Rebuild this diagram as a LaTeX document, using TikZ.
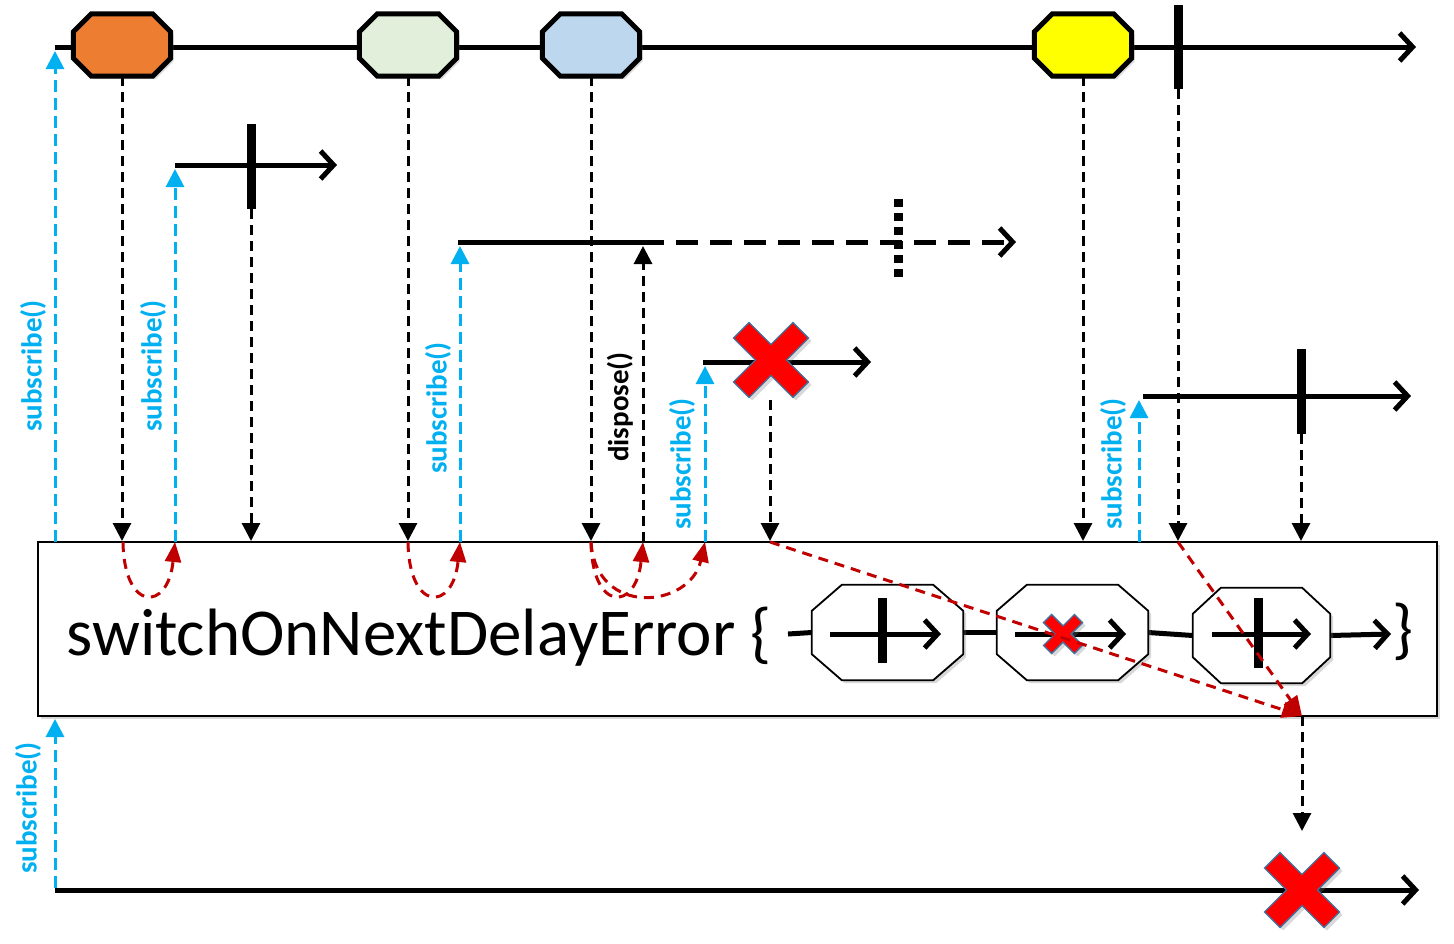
\documentclass[tikz,border=0pt]{standalone}
\usepackage{fontspec}
\setmainfont{Carlito}
\usetikzlibrary{arrows.meta,shadows}
\definecolor{sub}{HTML}{00B0F0}
\definecolor{dred}{HTML}{C00000}
\definecolor{xred}{HTML}{FF0000}
\definecolor{xedge}{HTML}{41719C}
\definecolor{morange}{HTML}{ED7D31}
\definecolor{mgreen}{HTML}{E2EFDA}
\definecolor{mblue}{HTML}{BDD7EE}
\definecolor{myellow}{HTML}{FFFF00}
\tikzset{
  shade/.style={drop shadow={opacity=0.3,shadow xshift=3pt,shadow yshift=-3pt}},
  mainline/.style={line width=5pt,-{Straight Barb[length=13pt,width=28pt]}},
  plainline/.style={line width=5pt},
  termbar/.style={line width=9pt},
  blkdash/.style={line width=3pt,dash pattern=on 10pt off 6pt,-{Triangle[width=18pt,length=18pt]}},
  subdash/.style={sub,line width=3pt,dash pattern=on 12pt off 6pt,-{Triangle[width=18pt,length=18pt]}},
  reddash/.style={dred,line width=3pt,dash pattern=on 10pt off 7pt,-{Triangle[width=16pt,length=20pt]}},
  sublabel/.style={sub,font=\fontsize{29}{34}\selectfont\bfseries,rotate=90},
  blklabel/.style={black,font=\fontsize{29}{34}\selectfont\bfseries,rotate=90},
  slot/.style={rectangle,inner sep=0pt,draw=none},
  redx/.pic={\filldraw[fill=xred,draw=xedge,line width=1.3pt,rotate=45,shade]
     (-11,-42) -- (11,-42) -- (11,-11) -- (42,-11) -- (42,11) -- (11,11) -- (11,42)
     -- (-11,42) -- (-11,11) -- (-42,11) -- (-42,-11) -- (-11,-11) -- cycle;}
}
\newcommand\octo[5]{% name, fill, xchamfer, ychamfer, line width
  \filldraw[line width=#5,fill=#2,shade,line join=miter]
   ([xshift=#3]#1.north west) -- ([xshift=-#3]#1.north east) -- ([yshift=-#4]#1.north east)
   -- ([yshift=#4]#1.south east) -- ([xshift=-#3]#1.south east) -- ([xshift=#3]#1.south west)
   -- ([yshift=#4]#1.south west) -- ([yshift=-#4]#1.north west) -- cycle;}
\begin{document}
\begin{tikzpicture}[x=1pt,y=-1pt]
\useasboundingbox (0,0) rectangle (1454,943);
% ---------- top source ----------
\coordinate (top0) at (55,47);
\coordinate (top1) at (1416,47);
\draw[mainline] (top0) -- (top1);
\node[slot,minimum width=97pt,minimum height=62pt] (m1) at (122,45) {};
\node[slot,minimum width=97pt,minimum height=62pt] (m2) at (408,45) {};
\node[slot,minimum width=97pt,minimum height=62pt] (m3) at (591,45) {};
\node[slot,minimum width=97pt,minimum height=62pt] (m4) at (1083,45) {};
\octo{m1}{morange}{18pt}{18pt}{5pt}
\octo{m2}{mgreen}{18pt}{18pt}{5pt}
\octo{m3}{mblue}{18pt}{18pt}{5pt}
\octo{m4}{myellow}{18pt}{18pt}{5pt}
\coordinate (tt0) at (1178,5);
\coordinate (tt1) at (1178,89);
\draw[termbar] (tt0) -- (tt1);
% ---------- inner source 1 ----------
\coordinate (s1) at (175,165);
\coordinate (s1e) at (337,165);
\draw[mainline] (s1) -- (s1e);
\coordinate (b1a) at (251,124);
\coordinate (b1b) at (251,209);
\draw[termbar] (b1a) -- (b1b);
% ---------- inner source 2 ----------
\coordinate (s2) at (458,242);
\coordinate (s2d) at (642,242);
\coordinate (s2e) at (1016,242);
\draw[plainline] (s2) -- (s2d);
\draw[line width=5pt,dash pattern=on 22pt off 12pt,-{Straight Barb[length=13pt,width=28pt]}] (s2d) -- (s2e);
\coordinate (b2a) at (898,199);
\coordinate (b2b) at (898,282);
\draw[line width=9pt,dash pattern=on 8pt off 6pt] (b2a) -- (b2b);
% ---------- inner source 3 ----------
\coordinate (s3) at (703,362);
\coordinate (s3e) at (871,362);
\draw[mainline] (s3) -- (s3e);
\pic (x3) at (771,360) {redx};
% ---------- inner source 4 ----------
\coordinate (s4) at (1143,396);
\coordinate (s4e) at (1411,396);
\draw[mainline] (s4) -- (s4e);
\coordinate (b4a) at (1301,349);
\coordinate (b4b) at (1301,434);
\draw[termbar] (b4a) -- (b4b);
% ---------- operator box ----------
\node[draw,line width=2pt,fill=white,shade,minimum width=1399pt,minimum height=174pt,inner sep=0pt] (box) at (737.5,629) {};
\node[anchor=base west,inner sep=0pt,font=\fontsize{67}{75}\selectfont] (op) at (66,655) {switchOnNextDelayError \{};
\node[slot,minimum width=151pt,minimum height=95pt] (o1) at (887.5,632.5) {};
\node[slot,minimum width=151pt,minimum height=95pt] (o2) at (1072.5,632.5) {};
\node[slot,minimum width=137pt,minimum height=95pt] (o3) at (1261.5,635.5) {};
\coordinate (ol0) at (788,634);
\coordinate (ol1) at (1391,634);
\draw[plainline] (ol0) -- (o1.west);
\draw[plainline] (o1.east) -- (o2.west);
\draw[plainline] (o2.east) -- (o3.west);
\draw[mainline] (o3.east) -- (ol1);
\octo{o1}{white}{30pt}{26pt}{1.8pt}
\octo{o2}{white}{30pt}{26pt}{1.8pt}
\octo{o3}{white}{28pt}{26pt}{1.8pt}
\node[inner sep=0pt,font=\fontsize{67}{75}\selectfont] (cb) at (1403,632) {\}};
\coordinate (i1a) at (830,634); \coordinate (i1b) at (941,634);
\draw[mainline] (i1a) -- (i1b);
\coordinate (i1c) at (882,598); \coordinate (i1d) at (882,663);
\draw[termbar] (i1c) -- (i1d);
\coordinate (i2a) at (1015,634); \coordinate (i2b) at (1126,634);
\draw[mainline] (i2a) -- (i2b);
\pic[scale=0.52] (x2) at (1063,634) {redx};
\coordinate (i3a) at (1212,634); \coordinate (i3b) at (1311,634);
\draw[mainline] (i3a) -- (i3b);
\coordinate (i3c) at (1258,598); \coordinate (i3d) at (1258,668);
\draw[termbar] (i3c) -- (i3d);
% ---------- emissions into the box ----------
\draw[blkdash] (m1.south) -- (m1.south |- box.north);
\draw[blkdash] (m2.south) -- (m2.south |- box.north);
\draw[blkdash] (m3.south) -- (m3.south |- box.north);
\draw[blkdash] (m4.south) -- (m4.south |- box.north);
\draw[blkdash] (tt1) -- (tt1 |- box.north);
\draw[blkdash] (b1b) -- (b1b |- box.north);
\coordinate (x3d) at (770,400);
\draw[blkdash] (x3d) -- (x3d |- box.north);
\draw[blkdash] (b4b) -- (b4b |- box.north);
% dispose
\coordinate (dp) at (643,542);
\coordinate (dpe) at (643,246);
\draw[blkdash] (dp) -- (dpe);
\node[blklabel] (dl) at (620,407) {dispose()};
% subscribes
\coordinate (sb0) at (55,542);   \coordinate (sb0e) at (55,51);
\coordinate (sb1) at (175,542);  \coordinate (sb1e) at (175,169);
\coordinate (sb2) at (460,542);  \coordinate (sb2e) at (460,246);
\coordinate (sb3) at (705,542);  \coordinate (sb3e) at (705,366);
\coordinate (sb4) at (1139,542); \coordinate (sb4e) at (1139,400);
\draw[subdash] (sb0) -- (sb0e);
\draw[subdash] (sb1) -- (sb1e);
\draw[subdash] (sb2) -- (sb2e);
\draw[subdash] (sb3) -- (sb3e);
\draw[subdash] (sb4) -- (sb4e);
\node[sublabel] (l0) at (33,366) {subscribe()};
\node[sublabel] (l1) at (153,366) {subscribe()};
\node[sublabel] (l2) at (438,408) {subscribe()};
\node[sublabel] (l3) at (682,464) {subscribe()};
\node[sublabel] (l4) at (1113,464) {subscribe()};
% ---------- red internal arrows ----------
\coordinate (r1a) at (123,542); \coordinate (r1b) at (175,542);
\coordinate (r2a) at (408,542); \coordinate (r2b) at (460,542);
\coordinate (r3a) at (591,542); \coordinate (r3b) at (643,542); \coordinate (r3c) at (705,542);
\coordinate (r4a) at (770,542); \coordinate (r5a) at (1178,542);
\coordinate (rout) at (1302,716);
\draw[reddash] (r1a) .. controls (124,612) and (168,612) .. (r1b);
\draw[reddash] (r2a) .. controls (409,612) and (453,612) .. (r2b);
\draw[reddash] (r3a) .. controls (592,612) and (636,612) .. (r3b);
\draw[reddash] (r3a) .. controls (596,618) and (690,608) .. (r3c);
\draw[reddash] (r4a) -- (rout);
\draw[reddash] (r5a) -- (rout);
% ---------- output ----------
\coordinate (od) at (1302,831);
\draw[blkdash] (rout) -- (od);
\coordinate (bt0) at (55,890);
\coordinate (bt1) at (1419,890);
\draw[mainline] (bt0) -- (bt1);
\pic (xo) at (1302,890) {redx};
\coordinate (sbo) at (55,888); \coordinate (sboe) at (box.south -| sbo);
\draw[subdash] (sbo) -- ([yshift=-2pt]sboe);
\node[sublabel] (lo) at (28,808) {subscribe()};
\end{tikzpicture}
\end{document}
